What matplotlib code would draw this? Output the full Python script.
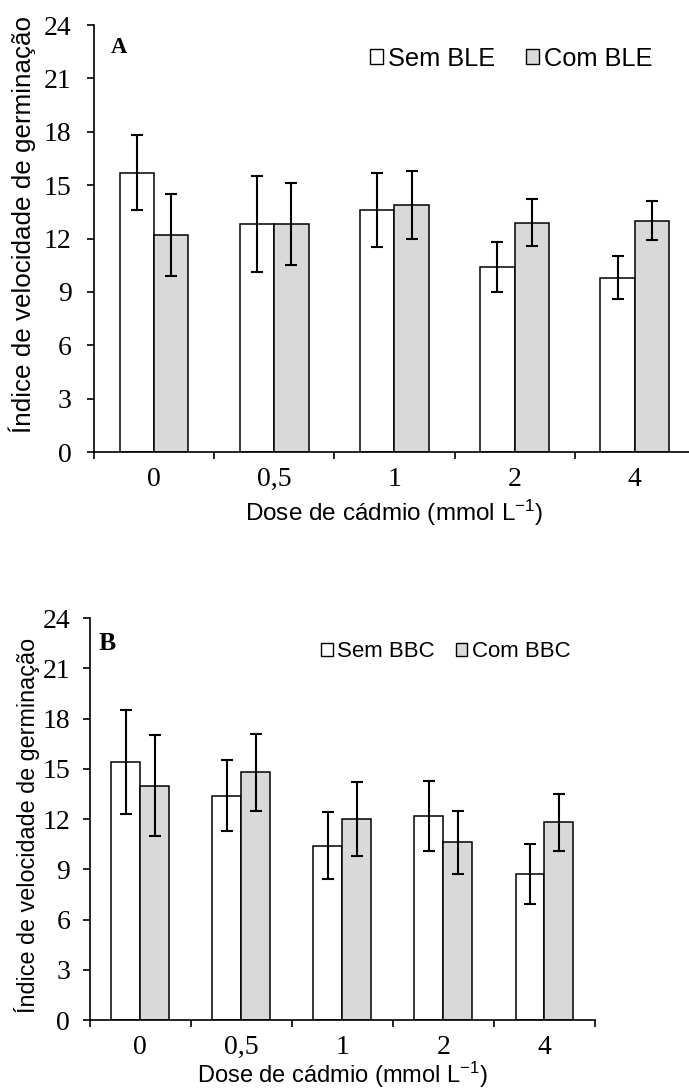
import numpy as np
import matplotlib
matplotlib.use("Agg")
import matplotlib.pyplot as plt
from matplotlib.patches import Patch

plt.rcParams["mathtext.fontset"] = "custom"
plt.rcParams["mathtext.rm"] = "Liberation Sans"
plt.rcParams["mathtext.it"] = "Liberation Sans:italic"

doses = ["0", "0,5", "1", "2", "4"]

# painel A - BLE
sem_ble = [15.7, 12.8, 13.6, 10.4, 9.8]
sem_ble_err = [2.1, 2.7, 2.1, 1.4, 1.2]
com_ble = [12.2, 12.8, 13.9, 12.9, 13.0]
com_ble_err = [2.3, 2.3, 1.9, 1.3, 1.1]

# painel B - BBC
sem_bbc = [15.4, 13.4, 10.4, 12.2, 8.7]
sem_bbc_err = [3.1, 2.1, 2.0, 2.1, 1.8]
com_bbc = [14.0, 14.8, 12.0, 10.6, 11.8]
com_bbc_err = [3.0, 2.3, 2.2, 1.9, 1.7]

serif = ["Liberation Serif", "DejaVu Serif"]
sans = ["Liberation Sans", "DejaVu Sans"]
cinza = "#d9d9d9"


def painel(ax, sem, sem_err, com, com_err, nomes, letra, fs_ylab, fs_xlab,
           fs_leg, fs_letra, letra_pos, leg_pos, colsp, ylab_pos, xlab_pos, ypad):
    x = np.arange(len(doses))
    w = 0.286
    ax.bar(x - w / 2, sem, w, color="white", edgecolor="black", linewidth=1.1, zorder=2)
    ax.bar(x + w / 2, com, w, color=cinza, edgecolor="black", linewidth=1.1, zorder=2)
    ax.errorbar(x - w / 2, sem, yerr=sem_err, fmt="none", ecolor="black",
                elinewidth=1.5, capsize=4, capthick=1.5, zorder=3)
    ax.errorbar(x + w / 2, com, yerr=com_err, fmt="none", ecolor="black",
                elinewidth=1.5, capsize=4, capthick=1.5, zorder=3)

    ax.set_xlim(-0.5, len(doses) - 0.5)
    ax.set_ylim(0, 24)
    ax.set_yticks(np.arange(0, 25, 3))
    ax.set_xticks(x)
    ax.set_xticklabels(doses)
    ax.set_xticks(np.arange(-0.5, len(doses), 1), minor=True)
    ax.tick_params(axis="x", which="major", length=0, pad=11)
    ax.tick_params(axis="x", which="minor", length=5, width=1.2, direction="out")
    ax.tick_params(axis="y", length=5, width=1.2, direction="out", pad=ypad)
    for lab in ax.get_xticklabels() + ax.get_yticklabels():
        lab.set_family(serif)
        lab.set_fontsize(20)

    for s in ["top", "right"]:
        ax.spines[s].set_visible(False)
    for s in ["left", "bottom"]:
        ax.spines[s].set_linewidth(1.2)

    ax.set_ylabel("Índice de velocidade de germinação", family=sans, fontsize=fs_ylab,
                  ha="center", va="center", rotation_mode="default")
    ax.yaxis.set_label_coords(*ylab_pos)
    ax.set_xlabel("Dose de cádmio (mmol L$^{-1}$)", family=sans, fontsize=fs_xlab,
                  ha="center", va="center")
    ax.xaxis.set_label_coords(*xlab_pos)

    ax.text(letra_pos[0], letra_pos[1], letra, transform=ax.transAxes, family=serif,
            fontweight="bold", fontsize=fs_letra, va="top", ha="left")

    handles = [Patch(facecolor="white", edgecolor="black", linewidth=1.0),
               Patch(facecolor=cinza, edgecolor="black", linewidth=1.0)]
    ax.legend(handles, nomes, loc="center left", bbox_to_anchor=leg_pos, ncol=2,
              frameon=False, handlelength=0.52, handleheight=0.52, handletextpad=0.2,
              columnspacing=colsp, borderpad=0, borderaxespad=0,
              prop={"family": sans, "size": fs_leg})


fig = plt.figure(figsize=(6.89, 10.90), dpi=100)
# o eixo do painel A passa um pouco da borda direita da figura
ax_a = fig.add_axes([0.1361, 0.5853, 0.8726, 0.3917])
ax_b = fig.add_axes([0.1300, 0.0642, 0.7335, 0.3688])

painel(ax_a, sem_ble, sem_ble_err, com_ble, com_ble_err, ["Sem BLE", "Com BLE"],
       "A", 18.7, 17.5, 18.3, 16.3, (0.028, 0.972), (0.459, 0.9215), 1.2,
       (-0.1194, 0.534), (0.5, -0.143), 11)
painel(ax_b, sem_bbc, sem_bbc_err, com_bbc, com_bbc_err, ["Sem BBC", "Com BBC"],
       "B", 16.8, 17, 16, 18.5, (0.018, 0.966), (0.458, 0.9167), 0.95,
       (-0.124, 0.485), (0.5, -0.137), 9)

fig.savefig("out.png", dpi=100)
